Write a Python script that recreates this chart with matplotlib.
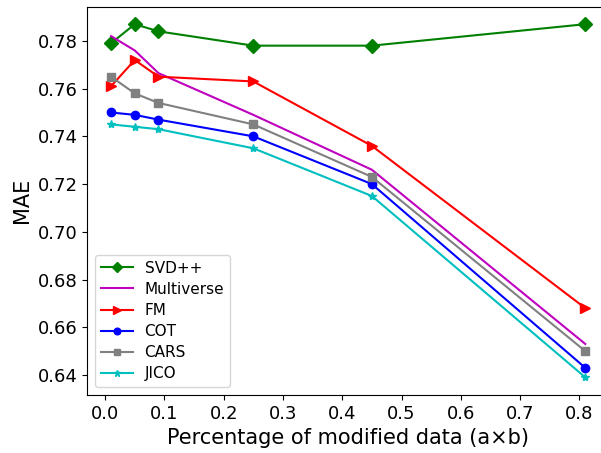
import numpy as np
import matplotlib
matplotlib.use("Agg")
import matplotlib.pyplot as plt

x = [0.01, 0.05, 0.09, 0.25, 0.45, 0.81]
svdpp = [0.779, 0.787, 0.784, 0.778, 0.778, 0.787]
multiverse = [0.782, 0.776, 0.7665, 0.749, 0.726, 0.653]
fm = [0.761, 0.772, 0.765, 0.763, 0.736, 0.668]
cot = [0.750, 0.749, 0.747, 0.740, 0.720, 0.643]
cars = [0.765, 0.758, 0.754, 0.745, 0.723, 0.650]
jico = [0.745, 0.744, 0.743, 0.735, 0.715, 0.639]

fig = plt.figure(figsize=(6.01, 4.53), dpi=100)
ax = fig.add_axes([0.1453, 0.128, 0.868, 0.8576])

ax.plot(x, svdpp, color="g", marker="D", markersize=7, lw=1.5, label="SVD++")
ax.plot(x, multiverse, color="m", lw=1.5, label="Multiverse")
ax.plot(x, fm, color="r", marker=">", markersize=7, lw=1.5, label="FM")
ax.plot(x, cot, color="b", marker="o", markersize=6, lw=1.5, label="COT")
ax.plot(x, cars, color="grey", marker="s", markersize=6, lw=1.5, label="CARS")
ax.plot(x, jico, color="c", marker="*", markersize=6, lw=1.5, label="JICO")

ax.set_xticks(np.arange(0, 0.81, 0.1))
ax.set_yticks(np.arange(0.64, 0.781, 0.02))
ax.tick_params(labelsize=13)
ax.set_xlabel("Percentage of modified data (a×b)", fontsize=15)
ax.set_ylabel("MAE", fontsize=15)
ax.legend(loc="lower left", fontsize=11, labelspacing=0.4, markerscale=0.8,
          handlelength=2.1, handletextpad=0.75)

fig.savefig("out.png", dpi=100)
